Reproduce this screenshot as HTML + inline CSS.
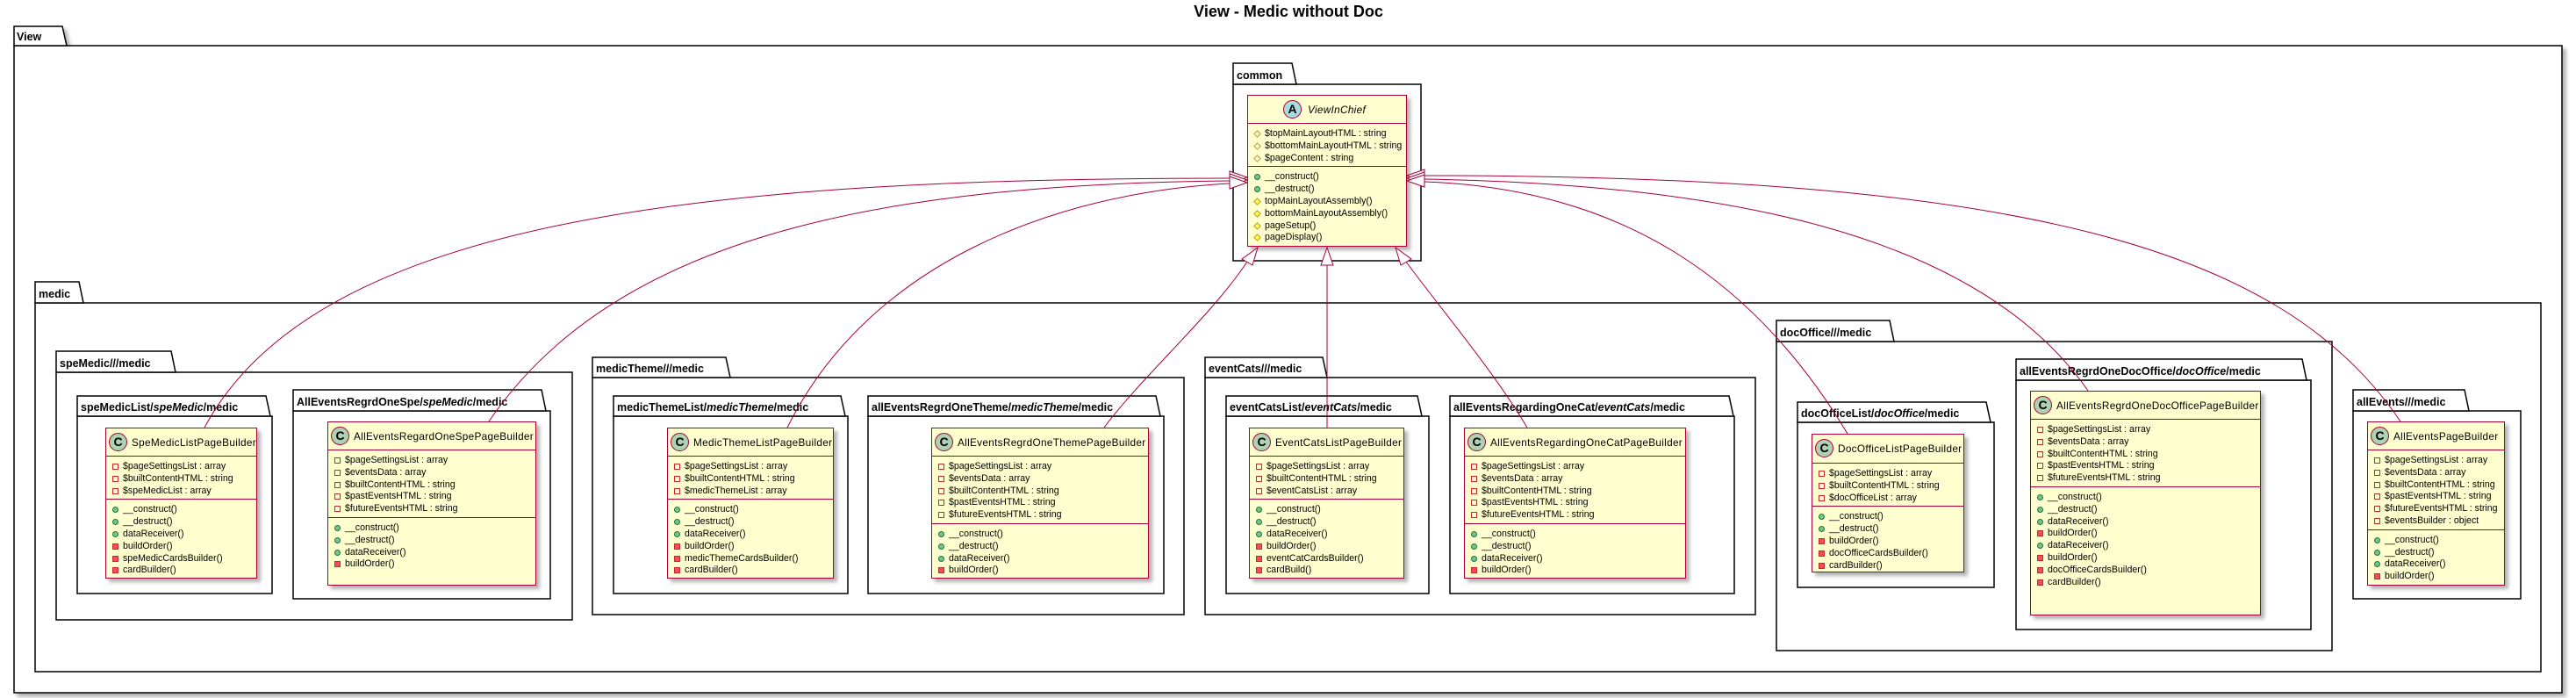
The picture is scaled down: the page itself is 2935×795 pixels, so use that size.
<!DOCTYPE html>
<html><head><meta charset="utf-8">
<style>
body{margin:0;background:#fff;}
#root{position:relative;width:2935px;height:795px;overflow:hidden;font-family:"Liberation Sans",sans-serif;}
svg{position:absolute;left:0;top:0;}
.cls{position:absolute;background:#FEFECE;border:1.5px solid #A80036;box-sizing:border-box;box-shadow:4px 4px 4px rgba(0,0,0,0.3);font-size:10.6px;color:#000;}
.hd{position:relative;border-bottom:1.5px solid #A80036;box-sizing:border-box;}
.hd .c{position:absolute;left:3px;width:21px;height:21px;border-radius:50%;background:#ADD1B2;border:1px solid #A80036;box-sizing:border-box;text-align:center;font:bold 14px/19px "Liberation Sans",sans-serif;}
.hd .n{position:absolute;left:29px;font-size:11.8px;letter-spacing:0.3px;white-space:nowrap;}
.sec{padding:5px 0 2px 0;border-bottom:1.5px solid #A80036;}
.sec.last{border-bottom:none;}
.r{position:relative;height:13.8px;line-height:13.8px;padding-left:19px;white-space:nowrap;}
.r i{position:absolute;left:7px;top:3px;width:7px;height:7px;box-sizing:border-box;}
.pa{border:1px solid #C82930;}
.pm{background:#F24D5C;border:1px solid #C82930;}
.pu{background:#84BE84;border:1px solid #038048;border-radius:50%;}
.ha{border:1px solid #B38D22;transform:rotate(45deg) scale(0.85);}
.hm{background:#FFFF44;border:1px solid #B38D22;transform:rotate(45deg) scale(0.85);}
</style></head><body><div id="root">
<svg width="2935" height="795" xmlns="http://www.w3.org/2000/svg">
<defs><filter id="sh" x="-5%" y="-5%" width="110%" height="110%"><feDropShadow dx="4" dy="4" stdDeviation="2" flood-opacity="0.3"/></filter></defs>
<text x="1468" y="19" text-anchor="middle" font-family="Liberation Sans" font-weight="bold" font-size="18">View - Medic without Doc</text>
<g fill="#fff" stroke="#000" stroke-width="1.5" filter="url(#sh)" font-family="Liberation Sans" font-weight="bold" font-size="12.5">
<rect x="16" y="52" width="2903" height="737"/>
<polygon points="16,52 16,30 71,30 76,52"/>
<rect x="1405" y="96" width="214" height="201"/>
<polygon points="1405,96 1405,72 1472,72 1477,96"/>
<rect x="40" y="345" width="2855" height="420"/>
<polygon points="40,345 40,321 90,321 95,345"/>
<rect x="64" y="424" width="588" height="282"/>
<polygon points="64,424 64,400 195,400 200,424"/>
<rect x="88" y="474" width="222" height="202"/>
<polygon points="88,474 88,451 303,451 308,474"/>
<rect x="334" y="468" width="293" height="214"/>
<polygon points="334,468 334,444 617,444 622,468"/>
<rect x="675" y="430" width="674" height="270"/>
<polygon points="675,430 675,407 827,407 832,430"/>
<rect x="699" y="474" width="267" height="202"/>
<polygon points="699,474 699,451 958,451 963,474"/>
<rect x="989" y="474" width="337" height="202"/>
<polygon points="989,474 989,451 1317,451 1322,474"/>
<rect x="1373" y="430" width="627" height="270"/>
<polygon points="1373,430 1373,407 1507,407 1512,430"/>
<rect x="1397" y="474" width="231" height="202"/>
<polygon points="1397,474 1397,451 1615,451 1620,474"/>
<rect x="1652" y="474" width="324" height="202"/>
<polygon points="1652,474 1652,451 1970,451 1975,474"/>
<rect x="2024" y="389" width="633" height="352"/>
<polygon points="2024,389 2024,365 2153,365 2158,389"/>
<rect x="2048" y="481" width="224" height="188"/>
<polygon points="2048,481 2048,458 2263,458 2268,481"/>
<rect x="2297" y="433" width="336" height="284"/>
<polygon points="2297,433 2297,409 2623,409 2628,433"/>
<rect x="2681" y="468" width="191" height="214"/>
<polygon points="2681,468 2681,444 2808,444 2813,468"/>
</g>
<g font-family="Liberation Sans" font-weight="bold" font-size="12.5" fill="#000">
<text x="19" y="46">View</text>
<text x="1409" y="90">common</text>
<text x="44" y="339">medic</text>
<text x="68" y="418">speMedic///medic</text>
<text x="92" y="468">speMedicList/<tspan font-style="italic">speMedic</tspan>/medic</text>
<text x="338" y="462">AllEventsRegrdOneSpe/<tspan font-style="italic">speMedic</tspan>/medic</text>
<text x="679" y="424">medicTheme///medic</text>
<text x="703" y="468">medicThemeList/<tspan font-style="italic">medicTheme</tspan>/medic</text>
<text x="993" y="468">allEventsRegrdOneTheme/<tspan font-style="italic">medicTheme</tspan>/medic</text>
<text x="1377" y="424">eventCats///medic</text>
<text x="1401" y="468">eventCatsList/<tspan font-style="italic">eventCats</tspan>/medic</text>
<text x="1656" y="468">allEventsRegardingOneCat/<tspan font-style="italic">eventCats</tspan>/medic</text>
<text x="2028" y="383">docOffice///medic</text>
<text x="2052" y="475">docOfficeList/<tspan font-style="italic">docOffice</tspan>/medic</text>
<text x="2301" y="427">allEventsRegrdOneDocOffice/<tspan font-style="italic">docOffice</tspan>/medic</text>
<text x="2685" y="462">allEvents///medic</text>
</g>
</svg>

<div class="cls" style="left:1421px;top:108px;width:182px;height:173px;">
<div class="hd" style="height:32px"><div class="c" style="top:5px;left:40px;background:#A9DCDF">A</div><div class="n" style="left:68px;top:9px;font-style:italic">ViewInChief</div></div>
<div class="sec"><div class="r"><i class="ha"></i>$topMainLayoutHTML : string</div><div class="r"><i class="ha"></i>$bottomMainLayoutHTML : string</div><div class="r"><i class="ha"></i>$pageContent : string</div></div>
<div class="sec last"><div class="r"><i class="pu"></i>__construct()</div><div class="r"><i class="pu"></i>__destruct()</div><div class="r"><i class="hm"></i>topMainLayoutAssembly()</div><div class="r"><i class="hm"></i>bottomMainLayoutAssembly()</div><div class="r"><i class="hm"></i>pageSetup()</div><div class="r"><i class="hm"></i>pageDisplay()</div></div>
</div>

<div class="cls" style="left:120px;top:487px;width:173px;height:172px;">
<div class="hd" style="height:32px"><div class="c" style="top:5px">C</div><div class="n" style="top:9px">SpeMedicListPageBuilder</div></div>
<div class="sec"><div class="r"><i class="pa"></i>$pageSettingsList : array</div><div class="r"><i class="pa"></i>$builtContentHTML : string</div><div class="r"><i class="pa"></i>$speMedicList : array</div></div>
<div class="sec last"><div class="r"><i class="pu"></i>__construct()</div><div class="r"><i class="pu"></i>__destruct()</div><div class="r"><i class="pu"></i>dataReceiver()</div><div class="r"><i class="pm"></i>buildOrder()</div><div class="r"><i class="pm"></i>speMedicCardsBuilder()</div><div class="r"><i class="pm"></i>cardBuilder()</div></div>
</div>

<div class="cls" style="left:373px;top:480px;width:238px;height:187px;">
<div class="hd" style="height:32px"><div class="c" style="top:5px">C</div><div class="n" style="top:9px">AllEventsRegardOneSpePageBuilder</div></div>
<div class="sec"><div class="r"><i class="pa"></i>$pageSettingsList : array</div><div class="r"><i class="pa"></i>$eventsData : array</div><div class="r"><i class="pa"></i>$builtContentHTML : string</div><div class="r"><i class="pa"></i>$pastEventsHTML : string</div><div class="r"><i class="pa"></i>$futureEventsHTML : string</div></div>
<div class="sec last"><div class="r"><i class="pu"></i>__construct()</div><div class="r"><i class="pu"></i>__destruct()</div><div class="r"><i class="pu"></i>dataReceiver()</div><div class="r"><i class="pm"></i>buildOrder()</div></div>
</div>

<div class="cls" style="left:760px;top:487px;width:190px;height:172px;">
<div class="hd" style="height:32px"><div class="c" style="top:5px">C</div><div class="n" style="top:9px">MedicThemeListPageBuilder</div></div>
<div class="sec"><div class="r"><i class="pa"></i>$pageSettingsList : array</div><div class="r"><i class="pa"></i>$builtContentHTML : string</div><div class="r"><i class="pa"></i>$medicThemeList : array</div></div>
<div class="sec last"><div class="r"><i class="pu"></i>__construct()</div><div class="r"><i class="pu"></i>__destruct()</div><div class="r"><i class="pu"></i>dataReceiver()</div><div class="r"><i class="pm"></i>buildOrder()</div><div class="r"><i class="pm"></i>medicThemeCardsBuilder()</div><div class="r"><i class="pm"></i>cardBuilder()</div></div>
</div>

<div class="cls" style="left:1061px;top:487px;width:248px;height:172px;">
<div class="hd" style="height:32px"><div class="c" style="top:5px">C</div><div class="n" style="top:9px">AllEventsRegrdOneThemePageBuilder</div></div>
<div class="sec"><div class="r"><i class="pa"></i>$pageSettingsList : array</div><div class="r"><i class="pa"></i>$eventsData : array</div><div class="r"><i class="pa"></i>$builtContentHTML : string</div><div class="r"><i class="pa"></i>$pastEventsHTML : string</div><div class="r"><i class="pa"></i>$futureEventsHTML : string</div></div>
<div class="sec last"><div class="r"><i class="pu"></i>__construct()</div><div class="r"><i class="pu"></i>__destruct()</div><div class="r"><i class="pu"></i>dataReceiver()</div><div class="r"><i class="pm"></i>buildOrder()</div></div>
</div>

<div class="cls" style="left:1423px;top:487px;width:177px;height:172px;">
<div class="hd" style="height:32px"><div class="c" style="top:5px">C</div><div class="n" style="top:9px">EventCatsListPageBuilder</div></div>
<div class="sec"><div class="r"><i class="pa"></i>$pageSettingsList : array</div><div class="r"><i class="pa"></i>$builtContentHTML : string</div><div class="r"><i class="pa"></i>$eventCatsList : array</div></div>
<div class="sec last"><div class="r"><i class="pu"></i>__construct()</div><div class="r"><i class="pu"></i>__destruct()</div><div class="r"><i class="pu"></i>dataReceiver()</div><div class="r"><i class="pm"></i>buildOrder()</div><div class="r"><i class="pm"></i>eventCatCardsBuilder()</div><div class="r"><i class="pm"></i>cardBuild()</div></div>
</div>

<div class="cls" style="left:1668px;top:487px;width:253px;height:172px;">
<div class="hd" style="height:32px"><div class="c" style="top:5px">C</div><div class="n" style="top:9px">AllEventsRegardingOneCatPageBuilder</div></div>
<div class="sec"><div class="r"><i class="pa"></i>$pageSettingsList : array</div><div class="r"><i class="pa"></i>$eventsData : array</div><div class="r"><i class="pa"></i>$builtContentHTML : string</div><div class="r"><i class="pa"></i>$pastEventsHTML : string</div><div class="r"><i class="pa"></i>$futureEventsHTML : string</div></div>
<div class="sec last"><div class="r"><i class="pu"></i>__construct()</div><div class="r"><i class="pu"></i>__destruct()</div><div class="r"><i class="pu"></i>dataReceiver()</div><div class="r"><i class="pm"></i>buildOrder()</div></div>
</div>

<div class="cls" style="left:2064px;top:494px;width:174px;height:158px;">
<div class="hd" style="height:33px"><div class="c" style="top:5px">C</div><div class="n" style="top:9px">DocOfficeListPageBuilder</div></div>
<div class="sec"><div class="r"><i class="pa"></i>$pageSettingsList : array</div><div class="r"><i class="pa"></i>$builtContentHTML : string</div><div class="r"><i class="pa"></i>$docOfficeList : array</div></div>
<div class="sec last"><div class="r"><i class="pu"></i>__construct()</div><div class="r"><i class="pu"></i>__destruct()</div><div class="r"><i class="pm"></i>buildOrder()</div><div class="r"><i class="pm"></i>docOfficeCardsBuilder()</div><div class="r"><i class="pm"></i>cardBuilder()</div></div>
</div>

<div class="cls" style="left:2313px;top:445px;width:263px;height:256px;">
<div class="hd" style="height:32px"><div class="c" style="top:5px">C</div><div class="n" style="top:9px">AllEventsRegrdOneDocOfficePageBuilder</div></div>
<div class="sec"><div class="r"><i class="pa"></i>$pageSettingsList : array</div><div class="r"><i class="pa"></i>$eventsData : array</div><div class="r"><i class="pa"></i>$builtContentHTML : string</div><div class="r"><i class="pa"></i>$pastEventsHTML : string</div><div class="r"><i class="pa"></i>$futureEventsHTML : string</div></div>
<div class="sec last"><div class="r"><i class="pu"></i>__construct()</div><div class="r"><i class="pu"></i>__destruct()</div><div class="r"><i class="pu"></i>dataReceiver()</div><div class="r"><i class="pm"></i>buildOrder()</div><div class="r"><i class="pu"></i>dataReceiver()</div><div class="r"><i class="pm"></i>buildOrder()</div><div class="r"><i class="pm"></i>docOfficeCardsBuilder()</div><div class="r"><i class="pm"></i>cardBuilder()</div></div>
</div>

<div class="cls" style="left:2697px;top:480px;width:157px;height:187px;">
<div class="hd" style="height:32px"><div class="c" style="top:5px">C</div><div class="n" style="top:9px">AllEventsPageBuilder</div></div>
<div class="sec"><div class="r"><i class="pa"></i>$pageSettingsList : array</div><div class="r"><i class="pa"></i>$eventsData : array</div><div class="r"><i class="pa"></i>$builtContentHTML : string</div><div class="r"><i class="pa"></i>$pastEventsHTML : string</div><div class="r"><i class="pa"></i>$futureEventsHTML : string</div><div class="r"><i class="pa"></i>$eventsBuilder : object</div></div>
<div class="sec last"><div class="r"><i class="pu"></i>__construct()</div><div class="r"><i class="pu"></i>__destruct()</div><div class="r"><i class="pu"></i>dataReceiver()</div><div class="r"><i class="pm"></i>buildOrder()</div></div>
</div>

<svg width="2935" height="795" xmlns="http://www.w3.org/2000/svg">
<g fill="none" stroke="#A80036" stroke-width="1">
<path d="M1401,203 C 800,203 360,250 233,487"/>
<path d="M1401,206 C 1000,210 700,270 557,480"/>
<path d="M1401,209 C 1200,220 990,300 897,487"/>
<path d="M1421,298 C 1380,360 1300,430 1258,487"/>
<line x1="1512" y1="302" x2="1512" y2="487"/>
<path d="M1602,298 C 1640,350 1700,420 1740,487"/>
<path d="M1623,207 C 1850,215 2000,320 2105,494"/>
<path d="M1623,204 C 1950,210 2250,260 2379,445"/>
<path d="M1623,200 C 2300,200 2600,280 2735,480"/>
</g>
<g fill="#fff" stroke="#A80036" stroke-width="1">
<polygon points="1421,202 1401,195 1401,209"/>
<polygon points="1421,205 1401,198 1401,212"/>
<polygon points="1421,208 1401,201 1401,215"/>
<polygon points="1603,200 1623,193 1623,207"/>
<polygon points="1603,203 1623,196 1623,210"/>
<polygon points="1603,206 1623,199 1623,213"/>
<polygon points="1433,282 1415,295 1427,302"/>
<polygon points="1512,282 1505,302 1519,302"/>
<polygon points="1590,282 1596,302 1608,295"/>
</g>
</svg>
</div></body></html>
